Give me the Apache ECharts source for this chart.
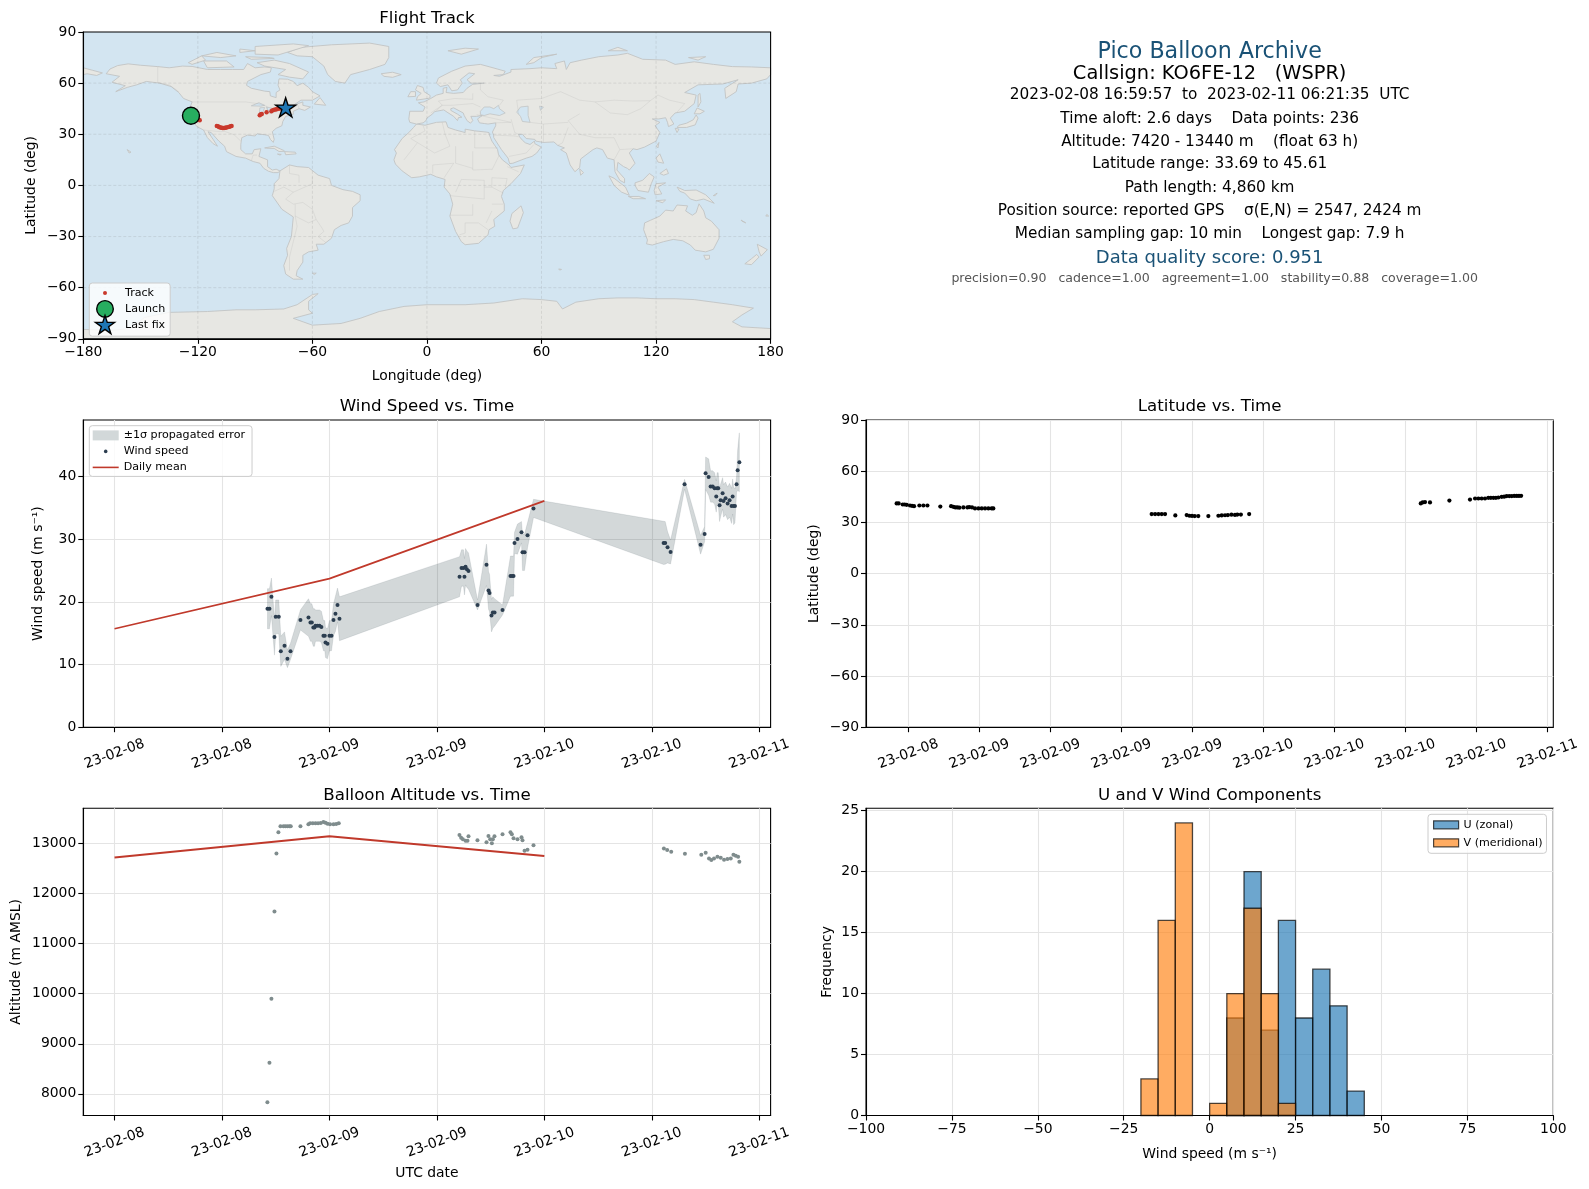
<!DOCTYPE html>
<html><head><meta charset="utf-8">
<style>html,body{margin:0;padding:0;background:#fff}#c{width:1589px;height:1189px}</style>
<script src="https://cdn.jsdelivr.net/npm/echarts@6/dist/echarts.min.js"></script>
</head><body><div id="c"></div>
<script>
// ---------- map geography (lon, lat) ----------
const landPolygons = [
 [[-168,65.5],[-166,68.3],[-162,70.3],[-156.5,71.3],[-150,70.5],[-141,69.7],[-135,69],[-128,70],[-123,69.8],[-115,68],[-108,68],[-102,68],[-96,68],[-94,71.5],[-90,69],[-85,69.5],[-81.5,69],[-82,66.5],[-87,65],[-94,61],[-94.5,58.7],[-92,57],[-85,55.3],[-82.3,55],[-82,52.5],[-79,51.5],[-79,54.5],[-77,56],[-78,58.8],[-77.5,62.5],[-73,62.3],[-70,61],[-68,58.5],[-65,60],[-62,57.5],[-60,55],[-56,52.5],[-60,50],[-66,50],[-70,47],[-65,49],[-65,47],[-61,46],[-64,44],[-67,45],[-70,43.5],[-70,41.7],[-74,40.5],[-75.5,37.5],[-76,35],[-79,33.5],[-81,31.5],[-80,27],[-80.5,25.2],[-82,27],[-83,29.3],[-85,29.7],[-89,30.3],[-90,29],[-94,29.5],[-97,28],[-97.5,24],[-97.5,21],[-95,18.5],[-91.5,18.5],[-90.5,21],[-87,21.5],[-88,17],[-83.5,15],[-83.5,11],[-81,9],[-79,9.5],[-77,8.5],[-78,7.5],[-80.5,7.5],[-83,8.3],[-85.5,10],[-87.5,13],[-91,14],[-95,16],[-100,17],[-105,19.8],[-106,23],[-109,26],[-113,31],[-114.7,31.5],[-112,27],[-109.7,23],[-112,24.5],[-115,28],[-117,32.5],[-120.5,34.5],[-122.5,37.5],[-124.3,40.5],[-124,46],[-123,49],[-127.5,51],[-130,54.5],[-134,58],[-140,60],[-147,61],[-152,59],[-157,57.5],[-163,55],[-158,58.5],[-165,60.5],[-161,64]],
 [[-77,8.5],[-72,12],[-68,11],[-62,10.5],[-57,6],[-51,4],[-50,0],[-44,-2.5],[-39,-3.5],[-35,-5.5],[-35,-9],[-39,-13],[-39,-18],[-41,-22],[-45,-23.5],[-48.5,-26],[-50,-31],[-54,-34.5],[-58,-34.5],[-57,-38],[-62,-39],[-65,-41],[-65,-45],[-68,-50],[-68.5,-53],[-65,-55],[-70,-55],[-74,-52],[-75,-47],[-73,-41],[-73.5,-37],[-71,-30],[-70,-18.5],[-76,-14],[-81,-6],[-80,-2],[-80,1],[-77.5,4]],
 [[-73,78],[-66,81],[-50,82.5],[-30,83.5],[-20,81.5],[-20,75],[-22,71],[-30,68],[-40,65],[-43,60],[-48,61],[-52,65],[-54,70],[-60,75.5],[-68,76]],
 [[-5.5,36],[-1,35.3],[5,37],[10,37.3],[11,34],[15,32.5],[20,31],[20,33],[25,32],[31,31.3],[32.5,31],[32.7,29.7],[34,26],[37,21],[37.5,18],[39.5,15],[43,12],[44,10.5],[51,12],[49,7],[44,1],[40,-3],[39,-6.5],[40.5,-11],[40.5,-15],[35,-20],[35.5,-24],[32.5,-26],[32,-29],[27,-34],[20,-34.8],[18,-33],[15,-27],[12,-18],[13.5,-11],[12,-5],[9,-1],[9.5,3.5],[5,5],[2,6.5],[-4,5],[-8,4.5],[-13,8.5],[-16.5,12.5],[-17.3,15],[-16,19],[-17,21],[-13,27.5],[-9.5,31],[-7,34]],
 [[-9,37],[-9.5,39],[-9,43.5],[-2,43.5],[-1,46],[-4.5,48.5],[-1.5,49],[2,51],[5,53],[8.5,54],[8.5,57],[10.5,57.5],[10,54.5],[14,54],[19,54.5],[21,57],[24,59.3],[30,60],[23,60],[21,62],[25,65.5],[22,66],[17.5,62],[18.5,60],[16,56],[13,55.5],[11,59],[7,58],[5,60],[6,63],[13,67],[20,70],[28,71],[33,69.5],[41,67],[40,65],[35,64.5],[38,64],[44,66.5],[44,68],[54,68.5],[60,69],[68,68.5],[67,71.5],[72,73],[73,68],[75,72],[81,73.5],[90,75.5],[100,76.5],[105,77.5],[113,74],[125,73.5],[130,71],[140,72.5],[150,71],[160,69.7],[170,69.5],[180,69],[180,65],[178,62.5],[170,60],[163,59.5],[162,55],[156.5,51],[156,57],[163,62],[155,59.5],[142,59],[135,54.5],[141,53],[140,48],[135,43.5],[130,42.5],[127.5,39.5],[129.3,36],[126.5,34.5],[126,37],[125,39.7],[121.5,39],[118,39],[122,37],[119.5,35],[122,31],[120,26],[114,22.5],[110,21],[108,21.5],[106,19],[109,13],[106,9],[105,10],[103,11],[100,13.5],[99.5,9],[103.5,4],[103.5,1.5],[101,3],[98.5,8],[98,15],[94.5,16],[92,21],[89,22],[87,21],[80.5,15.5],[80,10.5],[77.5,8],[75,12],[73,19],[70,21],[72,22],[68.5,23.5],[66.5,25.5],[61,25.2],[57,26],[56.5,27],[52,27.5],[50,30],[48,30],[48.5,28.5],[50,26.5],[51.5,25],[54,24],[56.3,26],[56.5,24.5],[59.8,22.5],[57.5,19],[55,17],[52,16],[45,13],[43.3,12.8],[42.5,16],[39,21],[35,28],[34.9,29.5],[34.3,31.3],[36,35],[36,36.7],[32,36],[30,36.3],[27.5,36.7],[26.5,39],[29,41],[26,40.5],[23,40.5],[24,38],[22.8,36.5],[21,38],[19.5,41],[19,42.5],[14,45.5],[12.5,45],[12.5,44],[16,41.8],[18.3,40],[16.5,39.8],[16,38],[14,40.5],[10.5,43],[8.8,44.3],[4,43.3],[3,42],[0,39.5],[-0.5,38],[-2,36.7],[-5.5,36]],
 [[114,-22],[113.5,-26],[115.5,-32],[115,-34.3],[118,-35],[124,-33],[129,-31.7],[134,-32.5],[138,-35],[140.5,-38],[146,-39],[150,-37.5],[153,-31],[153,-26],[149,-21],[146,-19],[145,-15],[142.5,-10.8],[141,-16],[139,-17.5],[135.5,-15],[136.5,-12],[131,-11.5],[129,-15],[125,-14.5],[122,-18],[117,-20.5]],
 [[-180,-90],[-180,-84.5],[-165,-85],[-155,-84],[-148,-77.5],[-135,-74.5],[-115,-74],[-100,-73],[-90,-73],[-75,-72.5],[-68,-70],[-60,-64],[-57,-63.5],[-62,-68],[-62,-73],[-60,-75],[-70,-78],[-60,-82],[-45,-81],[-35,-78],[-25,-74],[-12,-71],[0,-70],[20,-70],[35,-69],[50,-66.5],[60,-67],[68,-68],[71,-72.5],[78,-68.5],[90,-66.5],[100,-66],[110,-66],[120,-66.5],[130,-66.5],[140,-67],[150,-68.5],[160,-70],[171,-72],[165,-76],[160,-80],[165,-83],[180,-84],[180,-90]],
 [[-180,65],[-180,69],[-175,67.5],[-170,66],[-173,64.5],[-178,65.5]],
 [[-80,73.5],[-72,71.5],[-67,69],[-62,66.5],[-65,62.5],[-72,63.5],[-78,65],[-74,68],[-85,70],[-89,72]],
 [[-117,73],[-105,73],[-101,69.5],[-115,69]],[[-125,72],[-118,76],[-116,73.5],[-123,71]],
 [[-90,77],[-78,76.5],[-62,82],[-70,83],[-90,81.5]],[[-95,75.5],[-82,75],[-80,74.5],[-92,74]],
 [[-110,78],[-100,76],[-108,75],[-118,76]],[[-98,80],[-90,79],[-98,78]],
 [[-59,47.7],[-53,47],[-56,51.5]],
 [[-85,22],[-80,23],[-75,20.5],[-74.5,20],[-77.5,19.9],[-80,21.7],[-84,21.8]],
 [[-74.5,19.8],[-69,19.5],[-68.5,18.5],[-74,18]],[[-78.3,18.4],[-76.3,18.2],[-77,17.8]],
 [[-5.5,50],[1.5,51.2],[1.7,52.7],[-1.5,55],[-2,57.5],[-5,58.6],[-6,56],[-3,54],[-5,52]],
 [[-10,52],[-6,52.2],[-6,55],[-8.5,55]],[[-24,65.5],[-18,66.4],[-13.5,65],[-18,63.4],[-22.5,64]],
 [[11,79],[20,80.5],[27,80],[18,77]],[[52,71],[56,75],[68,77],[60,75],[56,72]],
 [[95,79],[105,79],[100,81]],[[137,75],[146,75.5],[142,73.5]],
 [[49.3,-12],[50.5,-16],[47.5,-25],[45,-25.5],[43.5,-21],[44.5,-16.5]],
 [[80,9.7],[82,7.5],[80.5,6]],
 [[131,34],[136,34],[140.5,35.5],[142,39.5],[141,41.3],[139.5,38.5],[136,36.5],[132,35.3]],
 [[140,42],[141.5,45.4],[145.3,43.5],[143,42]],[[130,33.5],[132,33],[131,31]],
 [[142,46],[143.5,49],[143,54],[142,53],[142,48]],[[120.2,23],[121.5,25.2],[121,22]],
 [[120,16],[122,18.5],[124,13],[121,13.7]],[[122,7],[125.5,9.7],[126.5,7],[124,6]],
 [[109,1.5],[113,3],[116.5,7],[119,5],[117.5,1],[116,-4],[110.5,-3],[109,0]],
 [[95.3,5.6],[98,4.2],[104,-1],[106,-5.8],[102,-4],[98,0]],
 [[105.5,-6.5],[111,-6.5],[114.5,-7.8],[108,-7.8]],
 [[119.5,-5.5],[119,-3],[120,1],[125,1.5],[121,-1],[123,-5]],
 [[131,-1],[135,-3],[141,-2.7],[146,-5.5],[150.5,-10.5],[145,-8],[141,-9],[138,-8],[135,-4.5],[132.5,-3.5]],
 [[120,-9],[125,-8.5],[123.5,-10.2]],[[150,-6],[152,-4.5],[151,-6]],
 [[145,-41],[148,-41],[148,-43],[146,-43.5]],
 [[173,-34.5],[178.3,-37.7],[175,-41.5],[174,-39]],[[172.7,-40.5],[174,-42],[170,-46.5],[166.5,-46],[170,-43]],
 [[69,-49],[70.5,-49.3],[69.5,-49.7]],[[-60,-51.5],[-58,-51.5],[-59,-52.3]],
 [[178,-17],[179,-18],[177.5,-18]],[[165,-21],[167,-22],[164.5,-20.3]],[[-157,21],[-155,19.5],[-156,19]]
];
const waterPolygons = [
 [[28,41.5],[28,43.5],[30,46],[33,46],[35,45],[37.5,47],[38,45],[41,42.5],[38,41],[33,42],[30,41]],
 [[49,46],[53,46.5],[53,41],[54,37],[50,37.5],[49,40.5],[47,43]],
 [[-92,46.7],[-88,48.5],[-85,47],[-87,46.5]],[[-87.8,42],[-86.3,42],[-85,45.7],[-87.5,45.5]],[[-84,46],[-80,45],[-82,43],[-83.5,44]],
 [[59,46.5],[61,46],[59.5,44]]
];
const borderLines = [
 [[-123,49],[-95,49],[-89,48],[-84,46.5],[-82.5,42],[-79,43],[-75,45],[-71,45],[-67.5,47],[-67,45]],
 [[-141,69.7],[-141,60.3],[-135,59],[-130,55]],[[-117,32.5],[-108,31.5],[-106,31.7],[-101,29.7],[-97.5,26]],
 [[-92,14.5],[-91,17.8],[-89,17.8]],[[-72,12],[-72,7],[-67,6],[-67,1.5]],
 [[-60,5],[-60,1],[-70,-4],[-74,-8],[-70,-11],[-65,-10],[-60,-14],[-58,-20],[-55,-25],[-54,-27],[-57,-30],[-53,-33.5]],
 [[-69,-18],[-68,-24],[-70,-33],[-72,-42],[-72,-50]],[[-80,-3.5],[-75,-1],[-70,-4]],[[-69,-11],[-69,-18],[-62,-22],[-58,-20]],
 [[-2,35],[-1,32],[-8.5,27.5],[4,19],[12,23],[9.5,30],[8,37]],[[25,32],[25,22],[37,22]],[[24,20],[24,9],[34,9.5]],
 [[15,23],[15,13],[24,10]],[[-5,25],[-12,15]],[[3,7],[3,12],[14,13],[9,4.5]],[[12,-6],[30,-8],[30,3],[18,3.5],[15,-4]],
 [[30,-1],[34,-1],[40,-4.5]],[[34,-1],[34,4.5],[42,4],[41,-1.5]],[[34,9],[38,18]],[[42,11],[48,8]],
 [[12,-17.5],[24,-17.5],[24,-11]],[[17,-29],[20,-28],[20,-22],[27,-22],[32,-26]],[[34,-11],[40,-11]],[[31,-22],[34,-15]],
 [[28,60],[28,56],[32,52],[40,50],[38,47]],[[48,42],[47,50],[60,51],[70,55],[80,50],[88,49],[98,50],[108,49.5],[117,49.7],[121,53],[127,50],[135,48],[131,43]],
 [[80,42],[74,38],[80,30],[88,28],[98,28],[101,21],[108,21.5]],[[88,49],[96,42.5],[105,41.5],[112,45],[117,49.7]],
 [[74,34],[71,25],[68.5,23.5]],[[44,39],[46,31],[48,30]],[[61,25],[61,36],[54,37]],[[61,36],[74,37]],
 [[26,41.5],[44,37],[36,36.7]],[[35,29.5],[46,29],[48,28.5]],[[43,17],[52,19],[56,24]],
 [[2,42.5],[8,47],[13,47],[24,48],[28,46]],[[6,49.5],[14.5,51],[24,50.5],[24,54]],[[98,15],[101,21]],[[5,44],[8,47],[6,49.5]]
];

// ---------- text ----------
const infoLines = [
 ["Pico Balloon Archive",52.5,22.2,"#1a5276"],
 ["Callsign: KO6FE-12   (WSPR)",74.2,19.4,"#000"],
 ["2023-02-08 16:59:57  to  2023-02-11 06:21:35  UTC",95.5,15.3,"#000"],
 ["Time aloft: 2.6 days    Data points: 236",118.8,15.3,"#000"],
 ["Altitude: 7420 - 13440 m    (float 63 h)",142,15.3,"#000"],
 ["Latitude range: 33.69 to 45.61",164.5,15.3,"#000"],
 ["Path length: 4,860 km",187.7,15.3,"#000"],
 ["Position source: reported GPS    σ(E,N) = 2547, 2424 m",211,15.3,"#000"],
 ["Median sampling gap: 10 min    Longest gap: 7.9 h",233.7,15.3,"#000"],
 ["Data quality score: 0.951",258.6,18,"#1a5276"],
 ["precision=0.90   cadence=1.00   agreement=1.00   stability=0.88   coverage=1.00",278.9,12.55,"#555"]
];
const panelTitles = ["Flight Track","Wind Speed vs. Time","Latitude vs. Time","Balloon Altitude vs. Time","U and V Wind Components"];

// ---------- map ----------
const lonTicks=[-180,-120,-60,0,60,120,180], latTicks=[-90,-60,-30,0,30,60,90];
const trackLon=[-123.6,-123,-122.3,-121.5,-120.8,-120.2,-119.6,-119,-110.1,-109.5,-108.9,-108.2,-107.6,-107,-106.3,-105.6,-105,-104.2,-103.5,-102.8,-102.3,-87.6,-87,-86.5,-84,-81.5,-81,-80.3,-79.5,-78.8,-78,-77.2,-76.4,-75.6,-74.8,-74];
const trackLat=[41,40.5,40,39.7,39.3,38.9,38.5,38.2,34.9,34.7,34.3,34,33.8,33.7,33.7,33.8,34,34.2,34.4,34.7,34.9,41.2,41.7,41.9,42.9,43.5,44,44.3,44.5,44.7,45,45.1,45.3,45.4,45.5,45.6];
const launchPoint=[-123.6,40.9], lastFix=[-74,45.8];

// ---------- wind ----------
const windHours=[17.08,17.3,17.52,17.86,18,18.34,18.57,18.98,19.31,19.65,20.76,21.66,21.88,22.03,22.2,22.33,22.44,22.66,22.89,23.1,23.33,23.48,23.56,23.78,24,24.23,24.45,24.67,24.9,25.12,
 38.53,38.75,38.97,39.08,39.2,39.35,39.53,40.54,41.54,41.77,41.88,42.1,42.25,42.44,43.33,44.22,44.41,44.56,44.67,45,45.45,45.56,45.79,46.12,46.79,
 61.32,61.5,61.76,62.1,63.66,65.45,65.9,66.01,66.35,66.57,66.8,67.02,67.2,67.3,67.42,67.57,67.69,67.91,68.02,68.24,68.47,68.69,68.91,69.03,69.14,69.29,69.47,69.59,69.78];
const windSpeeds=[18.9,18.9,20.8,14.4,17.6,17.6,12.1,13,10.9,12.1,17.1,17.5,16.7,16.7,15.9,15.9,16.2,16.2,16.2,16,14.6,14.6,13.5,13.3,14.6,14.6,17.1,18.1,19.5,17.3,
 24,25.4,25.4,24,25.6,25.2,24.9,19.5,25.9,21.8,21.4,17.8,18.3,18.3,18.7,24.1,24.1,24.1,29.4,30,31.1,27.9,27.9,30.6,34.9,
 29.4,29.4,28.7,27.95,38.75,29.1,30.8,40.5,39.9,38.4,38.4,38.1,36.8,38.1,38.1,35.4,36.2,37.3,36.1,36.5,35.7,36.2,35.3,36.8,35.3,35.3,38.75,41,42.25];
const windSigma=[3.2,3.2,3,2.9,2.7,2.7,2.4,2.2,1.4,1.3,1.6,3,3,3,3,3,2.5,2.5,2.5,2.5,2.4,2.4,2.4,2.4,2.4,2.4,2.5,2.8,2.7,3.5,
 3.2,2.9,2.9,2.9,2.9,2.9,2.9,0.8,3.3,3,3,2.6,2.5,2.2,0.8,3.2,3.2,3.2,1.7,2.4,1.7,2.9,2.9,2,1.45,
 3.45,3.4,2.5,1.9,0.8,1.5,1.2,2.6,2.9,2.5,2.5,2.5,2.5,2.5,2.5,2.6,2.6,2.5,2.6,2.6,2.6,2.7,2.8,2.8,3,2.7,1.3,3.2,4.7];
const meanHours=[0,24,48], windMeans=[15.7,23.7,36.1];

// ---------- latitude ----------
const latHours=[17.01,17.18,17.52,17.69,17.86,18.14,18.31,18.48,18.93,19.27,19.61,20.7,21.61,21.8,21.97,22.14,22.31,22.65,22.99,23.15,23.38,23.63,23.92,24.2,24.48,24.76,25.04,25.18,
 38.56,38.85,39.13,39.41,39.69,40.56,41.52,41.75,41.97,42.2,42.5,43.35,44.2,44.48,44.76,45,45.3,45.6,45.8,46.1,46.8,
 61.3,61.46,61.66,62.08,63.72,65.46,65.89,66.17,66.45,66.73,67.01,67.22,67.44,67.65,67.86,68.14,68.35,68.56,68.78,68.99,69.2,69.41,69.6,69.78];
const latDegs=[41.1,41.1,40.5,40.5,40.3,39.9,39.7,39.5,39.9,39.9,39.9,39.3,39.5,39.1,38.8,38.8,38.6,38.8,38.8,39,38.8,38.2,38.2,38.2,38.2,38.2,38.2,38.2,
 34.9,34.9,34.9,34.9,34.9,34.1,34.3,33.9,33.8,33.7,33.7,33.7,33.9,34.1,34.2,34.3,34.5,34.4,34.6,34.6,34.9,
 41.1,41.7,41.9,41.7,42.8,43.4,44,44,44,44,44.4,44.4,44.4,44.4,44.6,45,45.1,45.4,45.4,45.4,45.5,45.5,45.5,45.6];

// ---------- altitude ----------
const altHours=[17.07,17.3,17.52,17.86,18.08,18.3,18.53,18.86,19.08,19.31,19.53,19.68,20.76,21.65,21.84,22.14,22.44,22.73,23.03,23.33,23.55,23.78,24.07,24.45,24.75,25.04,
 38.52,38.71,38.9,39.2,39.42,39.53,40.53,41.54,41.76,41.95,42.14,42.25,42.43,43.33,44.22,44.37,44.56,45,45.45,45.56,45.79,46.12,46.79,
 61.35,61.72,62.17,63.7,65.53,66.02,66.39,66.65,66.95,67.33,67.7,68.07,68.45,68.82,69.12,69.38,69.64,69.78];
const altMeters=[7830,8620,9900,11640,12800,13220,13340,13340,13340,13340,13340,13340,13340,13380,13400,13400,13400,13400,13407,13427,13413,13393,13380,13380,13387,13400,
 13167,13113,13080,13053,13053,13140,13060,13020,13147,13080,13000,13080,13140,13180,13220,13180,13100,13080,13120,13060,12853,12873,12960,
 12900,12867,12833,12793,12773,12813,12700,12667,12700,12733,12713,12673,12687,12700,12773,12753,12733,12633];
const altMeans=[12720,13140,12750];

// ---------- histogram ----------
const binEdges=[-20,-15,-10,-5,0,5,10,15,20,25,30,35,40,45];
const uCounts=[0,0,0,0,0,8,20,7,16,8,12,9,2];
const vCounts=[3,16,24,0,1,10,17,10,1,0,0,0,0];

// ---------- axis ticks ----------
const halfDayTicks=[0,12,24,36,48,60,72];
const halfDayLabels=["23-02-08","23-02-08","23-02-09","23-02-09","23-02-10","23-02-10","23-02-11"];
const sixHourTicks=[18,24,30,36,42,48,54,60,66,72];
const sixHourLabels=["23-02-08","23-02-09","23-02-09","23-02-09","23-02-09","23-02-10","23-02-10","23-02-10","23-02-10","23-02-11"];
const windTicks=[0,10,20,30,40], altTicks=[8000,9000,10000,11000,12000,13000], latTimeTicks=[-90,-60,-30,0,30,60,90];
const freqTicks=[0,5,10,15,20,25], speedTicks=[-100,-75,-50,-25,0,25,50,75,100];

// ---------- helpers ----------
const FONT='"DejaVu Sans"';
const GRIDC='#e4e4e4';
const minus=v=>String(v).replace('-','\u2212');
function makeAxis(o){
  const labels=o.labels;
  return {
    type:'value',gridIndex:o.g,min:o.min,max:o.max,
    name:o.name||'',nameLocation:'middle',nameGap:o.gap,
    nameTextStyle:{fontFamily:FONT,fontSize:13.9,color:'#000'},
    axisLine:{show:true,onZero:false,lineStyle:{color:'#000',width:1.1}},
    axisTick:{show:true,customValues:o.ticks,length:5,lineStyle:{color:'#000',width:1.1}},
    axisLabel:{show:true,customValues:o.ticks,fontFamily:FONT,fontSize:13.9,color:'#000',hideOverlap:false,
      margin:o.margin===undefined?7:o.margin,rotate:o.rotate||0,
      align:o.rotate?'center':undefined,verticalAlign:o.rotate?'middle':undefined,
      padding:o.pad||0,
      formatter:labels?(v=>labels[o.ticks.indexOf(v)]):minus},
    splitLine:{show:o.grid!==false,lineStyle:{color:GRIDC,width:1.1}},
    z:o.z||0
  };
}
function polySeries(list,fill,stroke,lw,close,g,z){
  return {type:'custom',xAxisIndex:g,yAxisIndex:g,clip:true,silent:true,z:z,
    data:list.map((_,i)=>[i]),
    encode:{x:[],y:[]},
    renderItem(p,api){
      const pts=list[p.dataIndex].map(c=>api.coord(c));
      return {type:close?'polygon':'polyline',shape:{points:pts},style:{fill:close?fill:null,stroke:stroke,lineWidth:lw}};
    }};
}
function zipPts(a,b){return a.map((v,i)=>[v,b[i]]);}
function histSeries(name,counts,fill,edge,g){
  const rows=counts.map((c,i)=>[binEdges[i],binEdges[i+1],c]);
  return {type:'custom',name:name,xAxisIndex:g,yAxisIndex:g,z:3,silent:true,data:rows,encode:{x:[0,1],y:2},
    itemStyle:{color:fill,borderColor:edge},
    renderItem(p,api){
      const r=rows[p.dataIndex]; if(!r[2]) return null;
      const a=api.coord([r[0],r[2]]),b=api.coord([r[1],0]);
      return {type:'rect',shape:{x:a[0],y:a[1],width:b[0]-a[0],height:b[1]-a[1]},style:{fill:fill,stroke:edge,lineWidth:1.3}};
    }};
}

const L1=83.3,L2=866,W=687.3,H=306.8,T1=32,T2=420,T3=808.3;
const grids=[
 {left:L1,top:T1,width:W,height:H,show:true,backgroundColor:'#d3e5f1',borderWidth:0},
 {left:L1,top:T2,width:W,height:H+.4,show:true,backgroundColor:'#fff',borderColor:'#000',borderWidth:1.1},
 {left:L2,top:T2,width:W,height:H+.4,show:true,backgroundColor:'#fff',borderColor:'#000',borderWidth:1.1},
 {left:L1,top:T3,width:W,height:H+.4,show:true,backgroundColor:'#fff',borderColor:'#000',borderWidth:1.1},
 {left:L2,top:T3,width:W,height:H+.4,show:true,backgroundColor:'#fff',borderColor:'#000',borderWidth:1.1}
];
const TM=27, YPAD=[2,0,0,0];
const xAxes=[
 makeAxis({g:0,min:-180,max:180,ticks:lonTicks,name:'Longitude (deg)',gap:31,grid:false,z:6}),
 makeAxis({g:1,min:-3.49,max:73.27,ticks:halfDayTicks,labels:halfDayLabels,rotate:20,margin:TM}),
 makeAxis({g:2,min:14.42,max:72.5,ticks:sixHourTicks,labels:sixHourLabels,rotate:20,margin:TM}),
 makeAxis({g:3,min:-3.49,max:73.27,ticks:halfDayTicks,labels:halfDayLabels,rotate:20,margin:TM,name:'UTC date',gap:51}),
 makeAxis({g:4,min:-100,max:100,ticks:speedTicks,name:'Wind speed (m s\u207B\u00B9)',gap:32})
];
const yAxes=[
 makeAxis({g:0,min:-90,max:90,ticks:latTicks,name:'Latitude (deg)',gap:45,grid:false,z:6,pad:YPAD}),
 makeAxis({g:1,min:0,max:49,ticks:windTicks,name:'Wind speed (m s\u207B\u00B9)',gap:38,pad:YPAD}),
 makeAxis({g:2,min:-90,max:90,ticks:latTimeTicks,name:'Latitude (deg)',gap:45,pad:YPAD}),
 makeAxis({g:3,min:7568,max:13700,ticks:altTicks,name:'Altitude (m AMSL)',gap:60,pad:YPAD}),
 makeAxis({g:4,min:0,max:25.2,ticks:freqTicks,name:'Frequency',gap:32,pad:YPAD})
];

// map frame and dashed graticule above the land
const frameSeries={type:'custom',xAxisIndex:0,yAxisIndex:0,silent:true,z:5,clip:false,data:[[0]],encode:{x:[],y:[]},
  renderItem(p,api){
    const kids=[];
    const dash={stroke:'rgba(120,120,120,.22)',lineWidth:.8,lineDash:[3,2],fill:null};
    lonTicks.slice(1,-1).forEach(x=>{const a=api.coord([x,-90]),b=api.coord([x,90]);kids.push({type:'line',shape:{x1:a[0],y1:a[1],x2:b[0],y2:b[1]},style:dash});});
    latTicks.slice(1,-1).forEach(y=>{const a=api.coord([-180,y]),b=api.coord([180,y]);kids.push({type:'line',shape:{x1:a[0],y1:a[1],x2:b[0],y2:b[1]},style:dash});});
    const tl=api.coord([-180,90]),br=api.coord([180,-90]);
    kids.push({type:'rect',shape:{x:tl[0],y:tl[1],width:br[0]-tl[0],height:br[1]-tl[1]},style:{fill:null,stroke:'#000',lineWidth:1.1}});
    return {type:'group',children:kids};
  }};

const bandRows=windHours.map((t,i)=>[t,windSpeeds[i]-windSigma[i],windSpeeds[i]+windSigma[i]]);
const bandSeries={type:'custom',name:'\u00B11\u03C3 propagated error',xAxisIndex:1,yAxisIndex:1,z:2,silent:true,data:bandRows,encode:{x:0,y:[1,2]},
  itemStyle:{color:'#d2d8d9'},
  renderItem(p,api){
    if(p.dataIndex!==0) return null;
    const up=bandRows.map(r=>api.coord([r[0],r[2]]));
    const lo=bandRows.map(r=>api.coord([r[0],r[1]])).reverse();
    return {type:'polygon',shape:{points:up.concat(lo)},style:{fill:'rgba(37,62,66,.2)',stroke:'rgba(37,62,66,.1)',lineWidth:1}};
  }};

const series=[
 polySeries(landPolygons,'#e7e7e3','#c2c4c4',.9,true,0,1),
 polySeries(waterPolygons,'#d3e5f1','#c2c4c4',.8,true,0,2),
 polySeries(borderLines,null,'rgba(170,170,170,.25)',.8,false,0,2),
 frameSeries,
 {type:'scatter',name:'Track',xAxisIndex:0,yAxisIndex:0,z:7,symbolSize:4.4,silent:true,itemStyle:{color:'#c9392c',opacity:1},data:zipPts(trackLon,trackLat)},
 {type:'scatter',name:'Launch',xAxisIndex:0,yAxisIndex:0,z:8,symbolSize:17,silent:true,itemStyle:{color:'#27ae60',borderColor:'#000',borderWidth:1.4,opacity:1},data:[launchPoint]},
 {type:'scatter',name:'Last fix',xAxisIndex:0,yAxisIndex:0,z:9,symbol:'path://M15 0L17.25 6.91L24.51 6.91L18.63 11.18L20.88 18.09L15 13.82L9.12 18.09L11.37 11.18L5.49 6.91L12.75 6.91Z',symbolSize:[20,19],silent:true,itemStyle:{color:'#1f77b4',borderColor:'#000',borderWidth:1.4,opacity:1},data:[lastFix]},
 bandSeries,
 {type:'scatter',name:'Wind speed',xAxisIndex:1,yAxisIndex:1,z:4,symbolSize:4,silent:true,itemStyle:{color:'#2c3e50',opacity:1},data:zipPts(windHours,windSpeeds)},
 {type:'line',name:'Daily mean',xAxisIndex:1,yAxisIndex:1,z:3,symbol:'none',silent:true,lineStyle:{color:'#c0392b',width:1.7},data:zipPts(meanHours,windMeans)},
 {type:'scatter',xAxisIndex:2,yAxisIndex:2,z:4,symbolSize:4.2,silent:true,itemStyle:{color:'#000',opacity:1},data:zipPts(latHours,latDegs)},
 {type:'scatter',xAxisIndex:3,yAxisIndex:3,z:4,symbolSize:4,silent:true,itemStyle:{color:'#7f8c8d',opacity:1},data:zipPts(altHours,altMeters)},
 {type:'line',xAxisIndex:3,yAxisIndex:3,z:3,symbol:'none',silent:true,lineStyle:{color:'#c0392b',width:2},data:zipPts(meanHours,altMeans)},
 histSeries('U (zonal)',uCounts,'rgba(31,119,180,.65)','rgba(0,0,0,.7)',4),
 histSeries('V (meridional)',vCounts,'rgba(255,127,14,.65)','rgba(0,0,0,.7)',4)
];

const legText={fontFamily:FONT,fontSize:11.1,color:'#000'};
const legBase={orient:'vertical',selectedMode:false,align:'left',backgroundColor:'rgba(255,255,255,.8)',borderColor:'#ccc',borderWidth:1,borderRadius:3,textStyle:legText,z:20};
const starPath='M15 0L17.25 6.91L24.51 6.91L18.63 11.18L20.88 18.09L15 13.82L9.12 18.09L11.37 11.18L5.49 6.91L12.75 6.91Z';
const legends=[
 Object.assign({},legBase,{left:89.3,top:283,itemWidth:30,itemHeight:20,itemGap:-4.8,padding:[0,5,0,0],data:[
   {name:'Track',icon:'path://M0 0M30 20M13 10a2 2 0 1 0 4 0a2 2 0 1 0 -4 0Z',itemStyle:{color:'#c9392c',borderWidth:0,opacity:1}},
   {name:'Launch',icon:'path://M0 0M30 20M6.7 10a8.3 8.3 0 1 0 16.6 0a8.3 8.3 0 1 0 -16.6 0Z',itemStyle:{color:'#27ae60',borderColor:'#000',borderWidth:1.4,opacity:1}},
   {name:'Last fix',icon:'path://M0 0M30 20'+starPath,itemStyle:{color:'#1f77b4',borderColor:'#000',borderWidth:1.4,opacity:1}}
 ]}),
 Object.assign({},legBase,{left:89.3,top:425.7,itemWidth:26,itemHeight:10,itemGap:5,padding:[4.2,7,3.5,3.4],data:[
   {name:'\u00B11\u03C3 propagated error',icon:'rect',itemStyle:{color:'#d2d8d9',borderWidth:0}},
   {name:'Wind speed',icon:'path://M0 0M26 10M11.2 5a1.8 1.8 0 1 0 3.6 0a1.8 1.8 0 1 0 -3.6 0Z',itemStyle:{color:'#2c3e50',borderWidth:0,opacity:1}},
   {name:'Daily mean',icon:'path://M0 4.2H26V5.8H0Z',itemStyle:{color:'#c0392b',borderWidth:0,opacity:1}}
 ]}),
 Object.assign({},legBase,{left:1428,top:814.3,itemWidth:25,itemHeight:8,itemGap:7,padding:[5,4,5,5],data:[
   {name:'U (zonal)',icon:'rect',itemStyle:{color:'rgba(31,119,180,.65)',borderColor:'rgba(0,0,0,.7)',borderWidth:1.2}},
   {name:'V (meridional)',icon:'rect',itemStyle:{color:'rgba(255,127,14,.65)',borderColor:'rgba(0,0,0,.7)',borderWidth:1.2}}
 ]})
];

const titleAt=(text,x,y,size,color)=>({text:text,left:x,top:y,textAlign:'center',textVerticalAlign:'middle',padding:0,
   textStyle:{fontFamily:FONT,fontSize:size,fontWeight:'normal',color:color}});
const infoCenter=L2+W/2;
const titles=[
 titleAt(panelTitles[0],L1+W/2,18.5,16.67,'#000'),
 titleAt(panelTitles[1],L1+W/2,406.5,16.67,'#000'),
 titleAt(panelTitles[2],L2+W/2,406.5,16.67,'#000'),
 titleAt(panelTitles[3],L1+W/2,795.5,16.67,'#000'),
 titleAt(panelTitles[4],L2+W/2,795.5,16.67,'#000')
].concat(infoLines.map((l,i)=>titleAt(l[0],infoCenter+(i===infoLines.length-1?5:0),l[1],l[2],l[3])));

const chart=echarts.init(document.getElementById('c'),null,{renderer:'canvas'});
chart.setOption({animation:false,backgroundColor:'#fff',title:titles,legend:legends,grid:grids,xAxis:xAxes,yAxis:yAxes,series:series});
</script></body></html>
